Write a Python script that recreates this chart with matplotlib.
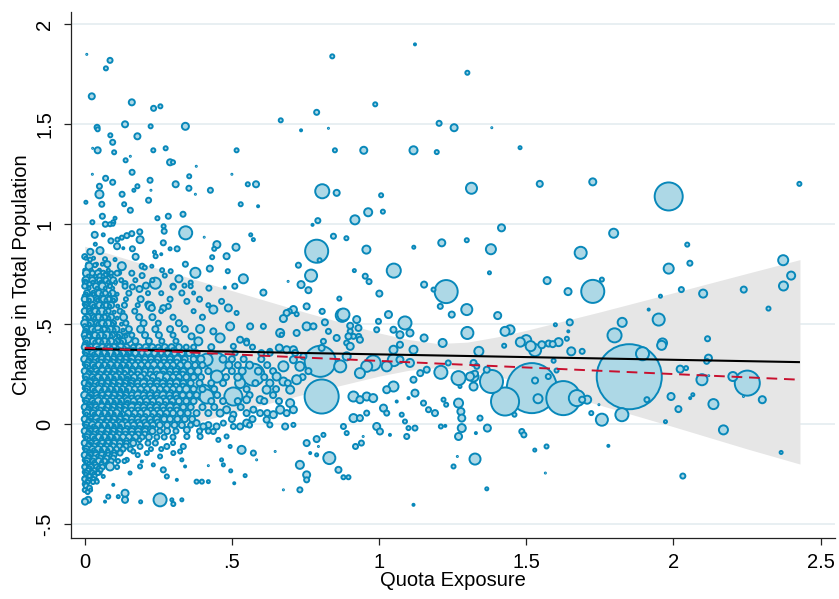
import numpy as np
import matplotlib
matplotlib.use("Agg")
import matplotlib.pyplot as plt

plt.rcParams['font.family'] = ['Liberation Sans', 'DejaVu Sans']

# ---------------- axis / text data ----------------
x_title = "Quota Exposure"
y_title = "Change in Total Population"
xticks = [0, 0.5, 1, 1.5, 2, 2.5]
xticklabels = ["0", ".5", "1", "1.5", "2", "2.5"]
yticks = [-0.5, 0, 0.5, 1, 1.5, 2]
yticklabels = ["-.5", "0", ".5", "1", "1.5", "2"]

# ---------------- fitted lines ----------------
fit_x = [0.0, 2.43]
fit_linear = [0.376, 0.310]      # black solid
fit_weighted = [0.382, 0.222]    # red dashed

# ---------------- confidence band ----------------
band_x = [0.0, 0.25, 0.5, 0.75, 1.0, 1.1, 1.2, 1.3, 1.4, 1.5, 1.75, 2.0, 2.25, 2.43]
band_lo = [-0.14, -0.042, 0.056, 0.151, 0.24, 0.269, 0.283, 0.27, 0.24, 0.201, 0.095, -0.013, -0.124, -0.200]
band_hi = [0.89, 0.778, 0.668, 0.559, 0.456, 0.423, 0.403, 0.41, 0.436, 0.469, 0.561, 0.657, 0.754, 0.823]

# ---------------- bubbles: (quota exposure, change in population, bubble diameter px) --------
pts_top = [
(0.007,1.85,3),(0.086,1.82,7),(0.072,1.78,6),(0.024,1.64,8),(0.16,1.61,8),(0.234,1.58,7),(0.257,1.59,6),
(0.137,1.50,8),(0.342,1.49,9),(0.042,1.485,7),(0.044,1.475,6),(0.224,1.49,6),(0.179,1.44,8),(0.087,1.445,6),
(0.095,1.41,7),(0.027,1.38,3),(0.044,1.37,8),(0.10,1.36,6),(0.233,1.37,6),(0.275,1.38,6),(0.155,1.34,3),
(0.139,1.32,6),(0.29,1.31,8),(0.30,1.31,6),(0.379,1.29,3),(0.026,1.25,3),(0.161,1.26,7),(0.355,1.24,6),
(0.071,1.23,7),(0.222,1.22,7),(0.095,1.21,7),(0.05,1.19,7),(0.309,1.20,8),(0.179,1.19,6),(0.167,1.17,5),
(0.225,1.17,3),(0.354,1.18,7),(0.427,1.17,7),(0.376,1.15,3),(0.05,1.15,10),(0.127,1.15,7),(0.004,1.11,5),
(0.058,1.10,7),(0.134,1.10,6),(0.217,1.12,7),(0.554,1.20,6),(0.582,1.20,8),(0.50,1.25,3),(0.516,1.37,6),
(0.53,1.10,6),(0.589,1.09,4),(0.334,1.05,7),(0.155,1.07,7),(0.284,1.04,7),(0.247,1.03,6),(0.06,1.04,7),
(0.103,1.03,5),(0.097,1.01,6),(0.026,1.01,6),(0.07,1.0,7),(0.086,1.0,6),(0.096,1.0,5),(0.268,0.99,6),
(0.27,0.965,7),(0.343,0.957,15),(0.406,0.935,2),(0.564,0.947,5),(0.573,0.923,5),(0.449,0.898,9),(0.44,0.877,6),
(0.514,0.885,9),(0.433,0.835,6),(0.482,0.84,8),(0.342,0.80,7),(0.376,0.757,12),(0.425,0.778,8),(0.486,0.765,6),
(0.539,0.727,11),(0.422,0.68,7),(0.476,0.683,4),(0.51,0.69,7),(0.607,0.658,8),(0.24,0.705,13),(0.32,0.727,9),
(0.188,0.923,9),(0.187,0.962,7),(0.16,0.953,7),(0.143,0.943,7),(0.126,0.933,6),(0.111,0.923,6),(0.089,0.917,7),
(0.11,0.89,8),(0.131,0.88,4),(0.162,0.877,7),(0.034,0.947,8),(0.063,0.947,5),(0.036,0.90,5),(0.052,0.868,9),
(0.019,0.862,8),(0.0,0.838,7),(0.018,0.823,6),(0.069,0.825,6),(0.173,0.837,8),(0.237,0.86,5),(0.241,0.84,6),
(0.26,0.85,4),(0.267,0.907,7),(0.29,0.877,5),(0.314,0.877,7),(0.015,0.79,9),(0.035,0.795,6),(0.052,0.74,7),
(0.072,0.746,7),(0.077,0.80,8),(0.103,0.823,5),(0.126,0.79,10),(0.117,0.757,6),(0.195,0.79,7),(0.204,0.783,6),
(0.228,0.79,5),(0.263,0.77,6),(0.272,0.743,6),(0.292,0.765,6),(0.195,0.743,7),(0.137,0.703,7),(0.105,0.70,3),
(0.07,0.746,6),(0.002,0.71,7),(0.016,0.70,6),(0.052,0.693,9),(0.086,0.693,6),(0.162,0.686,7),(0.186,0.676,8),
(0.208,0.693,8),(0.301,0.686,7),(0.339,0.693,6),(0.36,0.708,6),(0.33,0.656,7),(0.37,0.656,5),
]

pts_upper_mid = [
(0.666,1.52,6),(0.735,1.47,4),(0.788,1.56,7),(0.828,1.48,3),(0.841,1.84,6),(0.85,1.37,6),(0.948,1.37,9),
(0.987,1.60,6),(1.122,1.90,4),(1.117,1.37,10),(0.807,1.165,16),(0.856,1.157,8),(1.007,1.145,6),(0.963,1.06,10),
(1.013,1.063,6),(0.918,1.022,11),(0.792,1.018,7),(0.774,0.997,4),(0.845,0.94,7),(0.889,0.93,6),
(1.118,0.885,5),(0.788,0.865,25),(0.798,0.82,6),(0.957,0.873,10),(1.05,0.768,16),(0.769,0.743,14),(0.726,0.795,7),
(0.691,0.714,3),(0.735,0.698,9),(0.76,0.67,8),(0.916,0.768,5),(0.953,0.74,7),(0.966,0.713,7),(1.001,0.653,8),
(0.865,0.628,6),
]

pts_right = [
(1.30,1.758,6),(1.204,1.505,7),(1.255,1.483,9),(1.383,1.483,3),(1.196,1.361,6),(1.479,1.383,5),(1.314,1.18,13),
(1.546,1.202,8),(1.726,1.212,9),(1.984,1.139,30),(2.428,1.202,6),(1.213,0.907,9),(1.298,0.92,6),(1.416,0.982,9),
(1.38,0.875,12),(1.375,0.757,5),(1.797,0.955,11),(1.685,0.857,14),(2.047,0.898,6),(2.056,0.805,7),(1.984,0.778,12),
(2.373,0.82,12),(2.40,0.743,10),(2.374,0.691,11),(2.239,0.673,8),(2.101,0.653,10),(2.027,0.673,7),(1.956,0.64,5),
(1.571,0.718,9),(1.642,0.663,9),(1.757,0.723,6),(1.726,0.664,25),(1.228,0.663,25),(1.153,0.698,8),(1.185,0.673,6),
(1.208,0.589,7),(1.298,0.573,13),(1.247,0.548,8),(1.403,0.543,9),(1.30,0.456,14),(1.428,0.464,11),(1.445,0.472,11),
(1.425,0.392,6),(1.339,0.364,11),(1.216,0.406,10),(1.50,0.42,12),(1.48,0.41,11),(1.53,0.37,14),(1.515,0.39,12),
(1.553,0.397,9),(1.599,0.497,5),(1.648,0.509,8),(1.643,0.464,4),(1.638,0.427,6),(1.653,0.364,10),(1.69,0.364,7),
(1.593,0.317,6),(1.80,0.444,16),(1.826,0.509,11),(1.95,0.523,14),(1.916,0.573,4),(1.963,0.406,11),(1.96,0.394,11),
(1.895,0.352,15),(1.85,0.237,67),(1.91,0.122,7),(1.825,0.047,15),(1.757,0.022,14),(1.721,0.055,6),(1.747,0.097,3),
(1.707,0.122,10),(1.69,0.122,8),(1.672,0.13,18),(1.626,0.13,36),(1.519,0.18,52),(1.428,0.113,30),(1.382,0.213,25),
(1.54,0.127,11),(1.53,0.218,8),(1.575,0.238,7),(1.603,0.268,6),(1.46,0.047,6),(1.309,0.238,10),(1.326,0.252,8),
(1.27,0.23,16),(1.21,0.259,15),(1.162,0.272,8),(1.14,0.255,8),(1.235,0.306,7),(1.321,0.306,8),(1.275,0.188,5),
(1.321,0.188,10),(1.321,0.238,12),(1.366,0.272,8),(1.332,0.289,7),(1.576,0.403,8),(1.61,0.41,10),(1.59,0.40,8),
(1.27,0.105,11),(1.278,0.063,9),(1.281,0.03,9),(1.281,-0.02,10),(1.27,-0.062,9),(1.253,-0.212,6),(1.266,-0.162,3),
(1.326,-0.175,13),(1.343,0.03,7),(1.368,-0.02,9),(1.329,-0.045,4),(1.366,-0.324,5),(1.219,0.122,6),(1.228,0.097,6),
(1.21,-0.012,6),(1.225,-0.009,4),(1.19,0.055,8),(1.168,0.072,7),(1.151,0.105,7),(1.485,-0.037,7),(1.492,-0.054,7),
(1.529,-0.13,5),(1.569,-0.112,6),(1.565,-0.245,3),(1.779,-0.109,4),(1.973,0.012,5),(1.992,0.138,9),(2.017,0.075,8),
(2.057,0.13,4),(2.066,0.147,5),(2.023,0.275,9),(2.043,0.28,6),(2.097,0.222,13),(2.116,0.427,7),(2.119,0.33,9),
(2.113,0.314,7),(2.12,0.242,3),(2.136,0.10,12),(2.17,-0.029,11),(2.032,-0.26,7),(2.202,0.238,11),(2.251,0.205,27),
(2.238,0.138,3),(2.302,0.122,9),(2.323,0.578,6),(2.366,-0.142,5),
]

pts_mid = [
(0.216,0.598,8),(0.228,0.581,8),(0.267,0.58,8),(0.284,0.589,7),(0.347,0.614,7),(0.437,0.573,10),(0.488,0.581,9),
(0.516,0.556,6),(0.465,0.614,7),(0.562,0.489,8),(0.494,0.489,10),(0.437,0.464,8),(0.392,0.476,10),(0.363,0.439,8),
(0.386,0.414,10),(0.46,0.431,11),(0.528,0.422,8),(0.55,0.406,7),(0.505,0.389,7),(0.511,0.356,7),(0.607,0.489,7),
(0.664,0.456,10),(0.669,0.447,6),(0.72,0.456,8),(0.686,0.556,8),(0.709,0.573,9),(0.754,0.589,8),(0.805,0.564,6),
(0.754,0.489,10),(0.777,0.489,8),(0.828,0.464,7),(0.879,0.548,14),(0.924,0.523,9),(0.93,0.481,8),(0.902,0.464,7),
(0.913,0.439,7),(0.89,0.406,7),(0.998,0.514,7),(0.992,0.472,7),(1.032,0.548,9),(1.088,0.506,15),(1.049,0.472,8),
(1.071,0.447,9),(1.105,0.456,9),(0.80,0.314,33),(0.805,0.138,36),(0.573,0.247,24),(0.505,0.138,20),(0.448,0.306,22),
(0.414,0.322,14),(0.414,0.138,16),(0.324,0.339,12),(0.301,0.255,13),(0.256,0.255,14),(0.199,0.289,13),(0.131,0.063,12),
(0.041,0.122,10),(0.086,-0.212,10),(0.256,-0.379,15),(0.137,-0.346,9),(0.137,-0.379,8),(0.114,-0.363,5),(0.08,-0.363,6),
(0.069,-0.388,4),(0.001,-0.388,8),(0.012,-0.379,8),(0.19,-0.389,5),(0.296,-0.379,5),(0.301,-0.40,6),(0.33,-0.379,5),
(0.097,-0.304,4),(0.016,-0.32,7),(0.012,-0.279,6),(0.041,-0.288,6),(0.052,-0.245,5),(0.063,-0.262,5),(0.154,-0.245,5),
(0.188,-0.212,6),(0.194,-0.187,4),(0.233,-0.204,5),(0.267,-0.229,7),(0.279,-0.262,6),(0.313,-0.279,4),(0.33,-0.179,5),
(0.341,-0.212,4),(0.38,-0.288,6),(0.398,-0.288,6),(0.42,-0.288,5),(0.42,-0.208,3),(0.465,-0.179,5),(0.471,-0.204,5),
(0.496,-0.234,5),(0.508,-0.296,4),(0.545,-0.258,5),(0.533,-0.129,10),(0.573,-0.145,7),(0.584,-0.179,3),(0.494,-0.112,5),
(0.454,-0.079,6),(0.482,-0.062,6),(0.647,-0.137,3),(0.675,-0.329,3),(0.731,-0.329,7),(0.731,-0.204,10),(0.754,-0.254,9),
(0.754,-0.279,7),(0.754,-0.095,8),(0.788,-0.075,8),(0.794,-0.112,3),(0.766,-0.145,4),(0.788,-0.154,5),(0.811,-0.054,6),
(0.831,-0.17,14),(0.862,-0.229,8),(0.879,-0.266,6),(0.896,-0.266,6),(0.879,-0.012,7),(0.89,-0.045,6),(0.92,-0.112,7),
(0.94,-0.095,7),(0.946,-0.062,3),(0.992,-0.012,9),(1.003,-0.037,8),(1.037,-0.054,4),(1.088,0.013,6),(1.1,-0.02,6),
(1.094,-0.062,7),(1.122,-0.02,7),(1.117,-0.404,4),(1.1,0.13,4),(1.077,0.047,6),(0.98,0.13,10),(1.015,0.08,9),
(1.026,0.055,7),(0.913,0.03,10),(0.935,0.03,8),(0.958,0.055,7),(0.913,0.138,12),(0.935,0.122,9),(0.958,0.138,10),
(0.935,0.255,12),(0.958,0.289,13),(0.98,0.306,17),(0.89,0.339,10),(0.868,0.289,14),(1.049,0.188,12),(1.026,0.172,9),
(1.026,0.289,12),(1.071,0.322,9),(1.105,0.306,10),(1.049,0.372,10),(1.071,0.397,8),(1.117,0.372,10),(1.117,0.222,8),
(1.122,0.155,9),(1.06,0.113,4),(0.686,0.372,9),(0.709,0.372,9),(0.709,0.322,9),(0.731,0.289,11),(0.72,0.222,11),
(0.698,0.172,10),(0.675,0.289,12),(0.652,0.238,10),(0.675,0.213,10),(0.698,0.105,10),(0.709,0.072,9),(0.686,0.055,8),
(0.664,0.072,10),(0.641,0.047,9),(0.618,0.022,8),(0.629,-0.004,7),(0.681,-0.012,8),(0.709,-0.004,6),(0.596,0.122,9),
(0.573,0.072,8),(0.596,0.055,8),(0.618,0.172,10),(0.629,0.205,9),(0.528,0.205,12),(0.55,0.122,9),(0.482,0.072,9),
(0.505,0.047,8),(0.46,0.055,9),(0.55,0.005,9),(0.528,-0.012,8),(0.505,-0.012,7),(0.448,-0.012,8),(0.471,0.005,7),
(0.437,-0.037,7),(0.403,-0.012,8),(0.38,0.005,8),(0.392,-0.062,7),(0.347,-0.062,7),(0.335,-0.112,7),(0.324,-0.137,6),
(0.279,-0.112,7),(0.301,-0.145,6),(0.256,-0.162,6),(0.211,-0.145,6),(0.188,-0.112,7),(0.165,-0.137,6),(0.12,-0.145,7),
(0.143,-0.179,6),(0.695,0.564,7),(0.675,0.528,9),(0.72,0.55,6),(0.807,0.564,7),(0.875,0.544,15),(0.902,0.492,8),
(0.896,0.439,8),(0.931,0.439,7),(0.816,0.509,8),(0.661,0.381,9),(0.629,0.364,7),(0.811,0.414,7),(0.805,0.381,8),
(0.856,0.431,8),(0.902,0.389,9),(0.935,0.422,8),(0.715,0.356,8),(0.743,0.339,8),(1.153,0.431,9),(1.05,0.32,14),
(0.211,0.238,12),(0.256,0.238,10),(0.449,0.238,14),(0.347,-0.029,8),
(0.046,0.447,11),(0.143,0.43,12),(0.222,0.59,10),(0.195,0.28,14),(0.13,0.087,15),(0.403,0.157,18),
]

# dense cluster near zero exposure: rows of (y, [(x, diameter), ...])
dense_rows = [
(0.755, [(0.006,9),(0.026,7),(0.045,8),(0.063,7),(0.09,6),(0.11,7),(0.16,7)]),
(0.72,  [(0.004,9),(0.026,8),(0.05,7),(0.072,7),(0.097,8),(0.124,6),(0.172,6),(0.23,6)]),
(0.69,  [(0.0,7),(0.038,8),(0.06,9),(0.086,6),(0.137,7),(0.3,7),(0.36,6)]),
(0.655, [(0.008,8),(0.03,7),(0.048,8),(0.07,7),(0.094,8),(0.15,7),(0.215,6),(0.26,6)]),
(0.625, [(0.0,8),(0.02,9),(0.042,7),(0.064,8),(0.082,7),(0.1,8),(0.14,6),(0.19,8),(0.29,7),(0.39,7)]),
(0.595, [(0.005,7),(0.027,8),(0.05,8),(0.073,7),(0.09,8),(0.135,7),(0.18,6),(0.42,6)]),
(0.565, [(0.0,8),(0.016,7),(0.036,8),(0.058,9),(0.08,7),(0.12,7),(0.17,7),(0.26,6),(0.37,6)]),
(0.535, [(0.01,8),(0.03,7),(0.047,8),(0.068,7),(0.09,8),(0.132,9),(0.185,8),(0.23,8),(0.3,7),(0.4,7)]),
(0.505, [(0.0,9),(0.02,8),(0.04,7),(0.06,8),(0.08,8),(0.098,7),(0.14,7),(0.2,8),(0.25,7),(0.32,8)]),
(0.475, [(0.006,8),(0.025,8),(0.045,9),(0.066,7),(0.088,8),(0.108,8),(0.15,8),(0.19,9),(0.24,8),(0.29,8),(0.34,8)]),
(0.445, [(0.0,8),(0.016,7),(0.035,8),(0.055,8),(0.075,9),(0.095,7),(0.118,8),(0.16,7),(0.205,8),(0.252,8),(0.3,7)]),
(0.415, [(0.008,9),(0.028,8),(0.048,7),(0.068,8),(0.09,8),(0.11,7),(0.13,8),(0.172,8),(0.218,8),(0.262,7),(0.31,7),(0.55,7)]),
(0.385, [(0.0,8),(0.02,8),(0.04,9),(0.06,8),(0.082,7),(0.1,8),(0.122,9),(0.142,8),(0.165,7),(0.185,8),(0.207,8),(0.23,8),
         (0.25,7),(0.272,8),(0.295,8),(0.32,8),(0.345,7),(0.37,7),(0.43,8),(0.57,7)]),
(0.355, [(0.006,8),(0.026,8),(0.046,8),(0.066,8),(0.088,9),(0.108,8),(0.13,8),(0.15,7),(0.172,8),(0.195,8),(0.215,9),(0.237,8),
         (0.26,7),(0.282,8),(0.305,8),(0.33,8),(0.355,8),(0.38,8),(0.6,8),(0.63,7)]),
(0.325, [(0.0,9),(0.018,8),(0.038,8),(0.058,8),(0.078,8),(0.098,8),(0.12,8),(0.14,8),(0.16,9),(0.182,8),(0.205,8),(0.225,8),
         (0.248,8),(0.27,8),(0.29,8),(0.315,9),(0.34,8),(0.37,8),(0.395,9),(0.47,9),(0.5,8),(0.54,8),(0.6,8)]),
(0.295, [(0.008,8),(0.028,8),(0.048,8),(0.068,8),(0.088,9),(0.11,8),(0.13,8),(0.15,8),(0.172,8),(0.192,8),(0.215,8),(0.235,9),
         (0.258,8),(0.28,8),(0.3,8),(0.325,8),(0.35,9),(0.375,8),(0.4,8),(0.49,9),(0.52,8),(0.56,9),(0.62,8)]),
(0.265, [(0.0,8),(0.02,8),(0.04,8),(0.06,9),(0.08,8),(0.1,8),(0.12,8),(0.14,9),(0.162,8),(0.183,8),(0.205,8),(0.225,8),
         (0.245,9),(0.268,8),(0.29,8),(0.31,8),(0.335,8),(0.36,8),(0.385,9),(0.42,8),(0.5,8),(0.535,9),(0.59,9),(0.64,8),(0.76,8)]),
(0.235, [(0.006,9),(0.026,8),(0.046,8),(0.066,8),(0.086,8),(0.106,9),(0.126,8),(0.146,8),(0.168,8),(0.19,8),(0.232,8),(0.278,9),
         (0.3,8),(0.32,8),(0.345,8),(0.37,8),(0.395,8),(0.48,8),(0.52,9),(0.61,8),(0.74,8)]),
(0.205, [(0.0,8),(0.018,9),(0.038,8),(0.058,8),(0.078,8),(0.098,8),(0.118,9),(0.138,8),(0.158,8),(0.18,8),(0.2,9),(0.222,8),
         (0.245,8),(0.265,8),(0.29,8),(0.312,9),(0.335,8),(0.36,8),(0.39,8),(0.43,8),(0.47,8),(0.58,8),(0.69,8)]),
(0.175, [(0.008,8),(0.028,8),(0.048,9),(0.068,8),(0.088,8),(0.108,8),(0.128,8),(0.15,9),(0.17,8),(0.19,8),(0.212,8),(0.235,9),
         (0.256,8),(0.278,8),(0.3,8),(0.322,8),(0.345,9),(0.37,8),(0.4,8),(0.44,8),(0.55,8),(0.65,8)]),
(0.145, [(0.0,9),(0.02,8),(0.04,8),(0.06,8),(0.08,9),(0.1,8),(0.12,8),(0.14,8),(0.16,8),(0.18,9),(0.2,8),(0.222,8),
         (0.245,8),(0.266,9),(0.288,8),(0.31,8),(0.333,8),(0.356,8),(0.38,8),(0.45,8),(0.56,8),(0.64,8)]),
(0.115, [(0.006,8),(0.026,8),(0.046,9),(0.066,8),(0.086,8),(0.106,8),(0.126,8),(0.146,9),(0.166,8),(0.188,8),(0.21,8),(0.232,8),
         (0.254,9),(0.276,8),(0.298,8),(0.32,8),(0.345,8),(0.37,8),(0.43,8),(0.47,8),(0.52,8),(0.61,8),(0.66,8)]),
(0.085, [(0.0,8),(0.018,8),(0.038,8),(0.058,9),(0.078,8),(0.098,8),(0.118,8),(0.138,8),(0.16,9),(0.18,8),(0.2,8),(0.222,8),
         (0.244,8),(0.266,8),(0.29,9),(0.312,8),(0.335,8),(0.36,8),(0.4,8),(0.44,8),(0.53,8)]),
(0.055, [(0.008,9),(0.028,8),(0.048,8),(0.068,8),(0.088,8),(0.108,9),(0.148,8),(0.17,8),(0.19,8),(0.212,9),(0.234,8),
         (0.256,8),(0.278,8),(0.3,8),(0.325,8),(0.35,8),(0.38,8),(0.42,8),(0.55,8),(0.62,8)]),
(0.025, [(0.0,8),(0.02,8),(0.04,9),(0.06,8),(0.08,8),(0.1,8),(0.12,8),(0.14,9),(0.16,8),(0.18,8),(0.2,8),(0.222,8),
         (0.245,8),(0.27,8),(0.29,8),(0.315,8),(0.34,8),(0.365,8),(0.5,8),(0.57,8)]),
(-0.005, [(0.006,8),(0.026,9),(0.046,8),(0.066,8),(0.086,8),(0.106,8),(0.126,9),(0.146,8),(0.166,8),(0.188,8),(0.21,8),
          (0.232,8),(0.255,8),(0.28,8),(0.305,8),(0.33,8),(0.36,7),(0.42,8),(0.56,7)]),
(-0.035, [(0.0,8),(0.018,8),(0.038,8),(0.058,9),(0.078,8),(0.098,8),(0.118,8),(0.138,8),(0.16,8),(0.182,8),(0.205,8),
          (0.23,8),(0.255,7),(0.28,8),(0.31,7),(0.39,7),(0.42,7)]),
(-0.065, [(0.008,8),(0.028,8),(0.048,8),(0.068,8),(0.088,8),(0.108,8),(0.13,8),(0.15,8),(0.172,8),(0.195,7),(0.218,8),
          (0.245,7),(0.27,7),(0.3,7)]),
(-0.095, [(0.0,8),(0.02,8),(0.04,8),(0.06,8),(0.08,8),(0.1,8),(0.12,8),(0.142,7),(0.165,8),(0.215,7),(0.24,7),(0.3,6)]),
(-0.125, [(0.006,8),(0.026,8),(0.046,8),(0.066,8),(0.086,8),(0.108,7),(0.13,7),(0.155,7),(0.225,6),(0.26,6)]),
(-0.155, [(0.0,8),(0.018,8),(0.038,8),(0.058,8),(0.08,7),(0.1,7),(0.18,6)]),
(-0.185, [(0.008,8),(0.028,7),(0.048,8),(0.068,7),(0.09,7),(0.113,6),(0.135,6)]),
(-0.215, [(0.0,7),(0.02,8),(0.04,7),(0.06,7),(0.11,6)]),
(-0.245, [(0.006,7),(0.026,7),(0.045,6)]),
(-0.275, [(0.0,7),(0.03,6)]),
(-0.31,  [(0.005,7)]),
(-0.34,  [(0.01,6)]),
]

# smaller bubbles packed between the rows of the dense cluster: (y, diameter, [x, ...])
fill_rows = [
(0.37, 6, [0.012,0.034,0.055,0.079,0.1,0.121,0.146,0.165,0.19,0.21,0.235,0.254,0.279,0.3]),
(0.34, 6, [0.016,0.037,0.057,0.076,0.099,0.118,0.141,0.16,0.184,0.205,0.224,0.249,0.27,0.292,0.318]),
(0.31, 7, [0.011,0.032,0.055,0.074,0.097,0.116,0.138,0.161,0.181,0.203,0.226,0.245,0.269,0.29,0.313,0.337]),
(0.28, 6, [0.015,0.036,0.057,0.077,0.098,0.12,0.14,0.162,0.184,0.204,0.226,0.247,0.27,0.293,0.315]),
(0.25, 7, [0.012,0.031,0.053,0.075,0.096,0.117,0.137,0.158,0.18,0.201,0.222,0.244,0.266,0.287,0.31,0.333]),
(0.22, 6, [0.016,0.037,0.058,0.079,0.1,0.121,0.142,0.163,0.185,0.206,0.228,0.249,0.27,0.292,0.315]),
(0.19, 7, [0.011,0.032,0.054,0.074,0.095,0.117,0.137,0.159,0.18,0.202,0.223,0.245,0.267,0.288,0.31,0.334]),
(0.16, 6, [0.015,0.036,0.056,0.078,0.099,0.12,0.141,0.163,0.184,0.205,0.227,0.249,0.27,0.293]),
(0.13, 7, [0.012,0.033,0.054,0.075,0.096,0.118,0.139,0.16,0.181,0.203,0.224,0.246,0.268,0.29,0.313]),
(0.10, 6, [0.016,0.037,0.058,0.079,0.1,0.121,0.142,0.164,0.185,0.207,0.228,0.25,0.272,0.294]),
(0.07, 7, [0.011,0.032,0.053,0.074,0.095,0.117,0.138,0.159,0.181,0.202,0.224,0.246,0.268,0.29,0.313]),
(0.04, 6, [0.015,0.036,0.057,0.078,0.099,0.12,0.141,0.163,0.184,0.206,0.228,0.25,0.272]),
(0.01, 7, [0.012,0.033,0.054,0.075,0.096,0.118,0.139,0.16,0.182,0.204,0.226,0.248]),
(-0.02, 6, [0.016,0.037,0.058,0.079,0.1,0.121,0.143,0.164,0.186,0.208,0.23]),
(-0.05, 7, [0.011,0.032,0.053,0.074,0.096,0.117,0.138,0.16,0.182,0.204]),
(-0.08, 6, [0.015,0.036,0.057,0.078,0.099,0.12,0.142,0.164,0.186]),
(-0.11, 7, [0.012,0.033,0.054,0.075,0.097,0.118,0.14]),
(-0.14, 6, [0.016,0.037,0.058,0.079,0.1,0.122]),
(-0.17, 7, [0.011,0.032,0.053,0.075,0.097]),
(-0.20, 6, [0.015,0.036,0.057,0.079]),
(-0.23, 6, [0.012,0.033,0.054]),
(-0.26, 6, [0.016,0.034]),
(-0.29, 6, [0.01,0.028]),
]

# small, tightly packed bubbles forming the solid core at very low exposure: (y, [x, ...]), diameter 5
core_rows = [
(0.83, [0.004,0.03]), (0.80, [0.01,0.04,0.06]), (0.77, [0.0,0.022,0.05,0.08]),
(0.74, [0.012,0.036,0.062,0.09]), (0.71, [0.004,0.028,0.055,0.08,0.105]), (0.68, [0.015,0.042,0.07,0.095]),
(0.65, [0.006,0.03,0.058,0.084,0.11]), (0.62, [0.016,0.044,0.072,0.098]), (0.59, [0.004,0.03,0.06,0.085,0.112]),
(0.56, [0.018,0.046,0.07,0.1,0.13]), (0.53, [0.006,0.034,0.058,0.082,0.11]), (0.50, [0.016,0.044,0.07,0.095,0.125]),
(0.47, [0.004,0.032,0.056,0.08,0.1,0.13]), (0.44, [0.018,0.046,0.068,0.09,0.115,0.14]),
(0.41, [0.006,0.034,0.058,0.08,0.105,0.125]), (0.38, [0.016,0.044,0.07,0.09,0.112,0.135]),
(0.35, [0.004,0.03,0.056,0.078,0.1,0.122,0.145]), (0.32, [0.016,0.044,0.068,0.09,0.11,0.13,0.155]),
(0.29, [0.006,0.032,0.058,0.08,0.1,0.122,0.143]), (0.26, [0.018,0.046,0.07,0.09,0.112,0.134,0.156]),
(0.23, [0.004,0.03,0.056,0.078,0.1,0.12,0.145]), (0.20, [0.016,0.044,0.068,0.09,0.11,0.132,0.155]),
(0.17, [0.006,0.032,0.058,0.08,0.1,0.122,0.143]), (0.14, [0.018,0.046,0.07,0.09,0.112,0.134]),
(0.11, [0.004,0.03,0.056,0.078,0.1,0.12,0.145]), (0.08, [0.016,0.044,0.068,0.09,0.11,0.132]),
(0.05, [0.006,0.032,0.058,0.08,0.1,0.122]), (0.02, [0.018,0.046,0.07,0.09,0.112,0.134]),
(-0.01, [0.004,0.03,0.056,0.078,0.1,0.12]), (-0.04, [0.016,0.044,0.068,0.09,0.11]),
(-0.07, [0.006,0.032,0.058,0.08,0.1]), (-0.10, [0.018,0.046,0.07,0.09]),
(-0.13, [0.004,0.03,0.056,0.078]), (-0.16, [0.016,0.044,0.068,0.088]),
(-0.19, [0.006,0.032,0.058]), (-0.22, [0.018,0.046]), (-0.25, [0.004,0.03]), (-0.28, [0.016,0.04]),
(-0.30, [0.006]), (-0.33, [0.02]),
]

# extra bubbles hugging the zero-exposure edge (y values at x about 0 and 0.014)
edge_y0 = [0.64, 0.60, 0.57, 0.53, 0.49, 0.46, 0.43, 0.40, 0.36, 0.33, 0.30, 0.27, 0.24, 0.21, 0.18, 0.15, 0.12,
           0.09, 0.06, 0.03, 0.0, -0.03, -0.06, -0.09, -0.12, -0.15, -0.18, -0.21, -0.24, -0.27, -0.3, -0.33]
edge_y1 = [0.58, 0.51, 0.44, 0.38, 0.32, 0.26, 0.2, 0.14, 0.08, 0.02, -0.04, -0.1, -0.16, -0.22, -0.28]

# ---------------- assemble ----------------
rows = []
for y, items in dense_rows:
    rows += [(x, y, d) for x, d in items]
for y, d, xs in fill_rows:
    rows += [(x, y, d) for x in xs]
for y, xs in core_rows:
    rows += [(x, y, 5) for x in xs]
rows += [(0.0, y, 6) for y in edge_y0]
rows += [(0.014, y, 6) for y in edge_y1]

allpts = np.array(pts_top + pts_upper_mid + pts_right + pts_mid + rows, dtype=float)
# drawing order: large bubbles first (largest at the back), the many small ones
# afterwards from top to bottom so that they overlap like stacked discs
big = allpts[allpts[:, 2] >= 12]
small = allpts[allpts[:, 2] < 12]
big = big[np.argsort(-big[:, 2], kind="stable")]
small = small[np.argsort(-small[:, 1], kind="stable")]
allpts = np.vstack([big, small])
qx, dpop, diam = allpts[:, 0], allpts[:, 1], allpts[:, 2]

W, H = 839, 599
fig = plt.figure(figsize=(W / 100, H / 100), dpi=100)
ax = fig.add_axes([71 / W, 61 / H, (835 - 71) / W, (538 - 12) / H])
ax.set_xlim(-0.0466, 2.549)
ax.set_ylim(-0.570, 2.062)

# grid
for yt in yticks:
    ax.axhline(yt, color="#e6eef1", lw=1.3, zorder=0)

# confidence band
ax.fill_between(band_x, band_lo, band_hi, color="#e6e6e6", lw=0, zorder=1)

# bubbles
edge_lw_pt = 1.4
lw_px = edge_lw_pt / 0.72
sizes = (0.72 * np.maximum(diam - lw_px, 1.0)) ** 2
ax.scatter(qx, dpop, s=sizes, facecolor="#add8e6", edgecolor="#0888ba",
           linewidths=edge_lw_pt, zorder=2)

# fit lines
ax.plot(fit_x, fit_linear, color="black", lw=1.5, zorder=4, solid_capstyle="butt")
ax.plot(fit_x, fit_weighted, color="#c8102e", lw=1.4, zorder=4, dashes=(5.5, 3.5))

# spines / ticks
for side in ("top", "right"):
    ax.spines[side].set_visible(False)
for side in ("left", "bottom"):
    ax.spines[side].set_color("#222222")
    ax.spines[side].set_linewidth(0.9)

ax.set_xticks(xticks)
ax.set_xticklabels(xticklabels)
ax.set_yticks(yticks)
ax.set_yticklabels(yticklabels, rotation=90, va="center")
ax.tick_params(axis="both", direction="out", length=5, width=0.9, color="#222222",
               labelsize=14.5, labelcolor="black")
ax.tick_params(axis="x", pad=6)
ax.tick_params(axis="y", pad=7)

fig.text(453 / W, 1 - 580 / H, x_title, ha="center", va="center", fontsize=14.5)
fig.text(22 / W, 1 - 275 / H, y_title, ha="center", va="center", rotation=90, fontsize=14.5)

fig.savefig("out.png", dpi=100, facecolor="white")
